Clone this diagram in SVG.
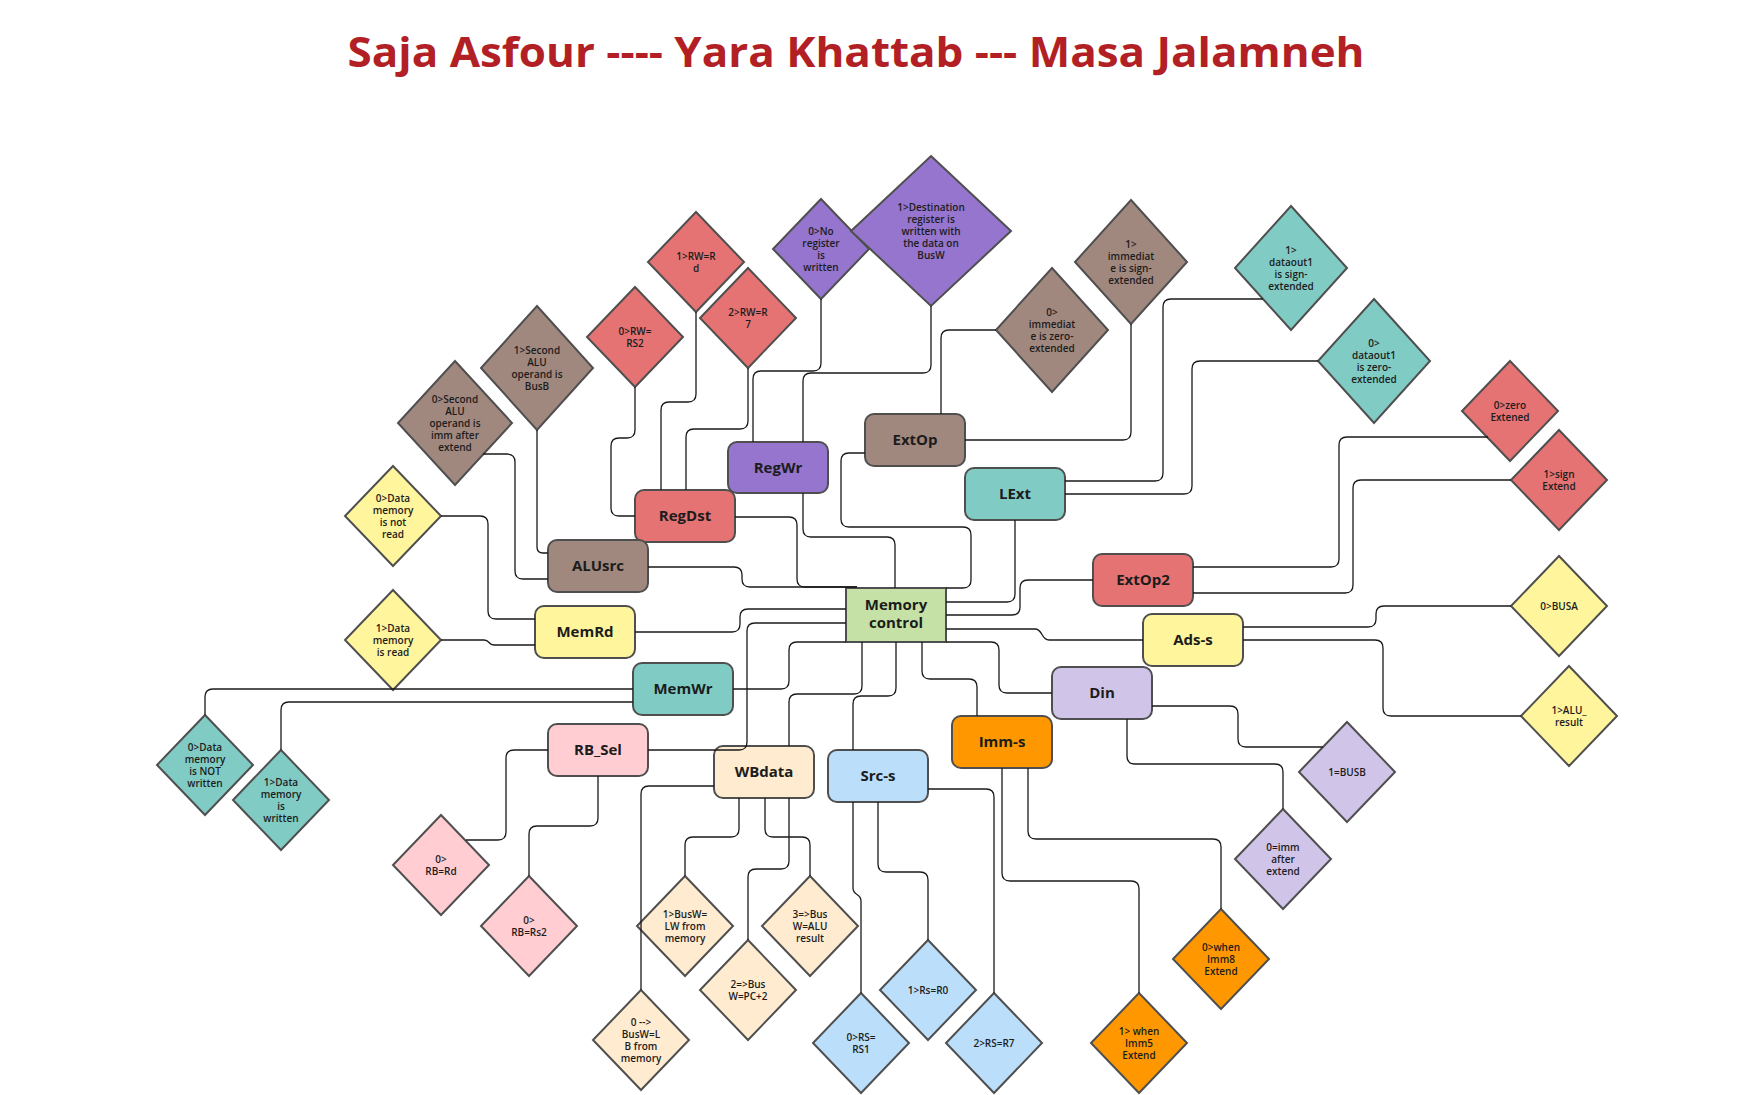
<svg xmlns="http://www.w3.org/2000/svg" width="1761" height="1095" viewBox="0 0 1761 1095">
<style>
.bx{stroke:#4f4f4f;stroke-width:2}
.dm{stroke:#4f4f4f;stroke-width:2}
.bl{font-family:"Open Sans","Liberation Sans",sans-serif;font-weight:700;font-size:15px;fill:#1c1c1c;text-anchor:middle}
.dl{font-family:"Open Sans","Liberation Sans",sans-serif;font-weight:600;font-size:10px;fill:#1c1c1c;text-anchor:middle}
.c{fill:none;stroke:#1a1a1a;stroke-width:1.3}
.red{fill:#E57373}.brn{fill:#A1887F}.pur{fill:#9575CD}.tea{fill:#80CBC4}.yel{fill:#FFF59D}
.lav{fill:#D1C4E9}.ora{fill:#FF9800}.blu{fill:#BBDEFB}.pea{fill:#FFEBD0}.pnk{fill:#FFCDD2}.grn{fill:#C5E1A5}
</style>
<rect width="1761" height="1095" fill="#ffffff"/>
<text x="856" y="67" textLength="1017" lengthAdjust="spacingAndGlyphs" style="font-family:'Open Sans','Liberation Sans',sans-serif;font-weight:700;font-size:42px;fill:#B21F24;text-anchor:middle">Saja Asfour ---- Yara Khattab --- Masa Jalamneh</text>

<g id="nodes">
<g id="RegWr"><rect class="bx pur" x="728" y="442" width="100" height="51" rx="9"/><text class="bl" x="778" y="473">RegWr</text></g>
<g id="ExtOp"><rect class="bx brn" x="865" y="414" width="100" height="52" rx="9"/><text class="bl" x="915" y="445">ExtOp</text></g>
<g id="LExt"><rect class="bx tea" x="965" y="468" width="100" height="52" rx="9"/><text class="bl" x="1015" y="499">LExt</text></g>
<g id="RegDst"><rect class="bx red" x="635" y="490" width="100" height="52" rx="9"/><text class="bl" x="685" y="521">RegDst</text></g>
<g id="ALUsrc"><rect class="bx brn" x="548" y="540" width="100" height="52" rx="9"/><text class="bl" x="598" y="571">ALUsrc</text></g>
<g id="MemoryControl"><rect class="bx grn" x="846" y="588" width="100" height="54"/><text class="bl" x="896" y="610">Memory</text><text class="bl" x="896" y="628">control</text></g>
<g id="ExtOp2"><rect class="bx red" x="1093" y="554" width="100" height="52" rx="9"/><text class="bl" x="1143" y="585">ExtOp2</text></g>
<g id="Ads-s"><rect class="bx yel" x="1143" y="614" width="100" height="52" rx="9"/><text class="bl" x="1193" y="645">Ads-s</text></g>
<g id="Din"><rect class="bx lav" x="1052" y="667" width="100" height="52" rx="9"/><text class="bl" x="1102" y="698">Din</text></g>
<g id="Imm-s"><rect class="bx ora" x="952" y="716" width="100" height="52" rx="9"/><text class="bl" x="1002" y="747">Imm-s</text></g>
<g id="Src-s"><rect class="bx blu" x="828" y="750" width="100" height="52" rx="9"/><text class="bl" x="878" y="781">Src-s</text></g>
<g id="WBdata"><rect class="bx pea" x="714" y="746" width="100" height="52" rx="9"/><text class="bl" x="764" y="777">WBdata</text></g>
<g id="RB_Sel"><rect class="bx pnk" x="548" y="724" width="100" height="52" rx="9"/><text class="bl" x="598" y="755">RB_Sel</text></g>
<g id="MemWr"><rect class="bx tea" x="633" y="663" width="100" height="52" rx="9"/><text class="bl" x="683" y="694">MemWr</text></g>
<g id="MemRd"><rect class="bx yel" x="535" y="606" width="100" height="52" rx="9"/><text class="bl" x="585" y="637">MemRd</text></g>

<g id="d1"><polygon class="dm red" points="696,212 744,262 696,312 648,262"/><text class="dl" x="696" y="259.5">1&gt;RW=R<tspan x="696" dy="12">d</tspan></text></g>
<g id="d2"><polygon class="dm red" points="748,268 796,318 748,368 700,318"/><text class="dl" x="748" y="315.5">2&gt;RW=R<tspan x="748" dy="12">7</tspan></text></g>
<g id="d3"><polygon class="dm red" points="635,287 683,337 635,387 587,337"/><text class="dl" x="635" y="334.5">0&gt;RW=<tspan x="635" dy="12">RS2</tspan></text></g>
<g id="d4"><polygon class="dm brn" points="537,306 593,368 537,430 481,368"/><text class="dl" x="537" y="353.5">1&gt;Second<tspan x="537" dy="12">ALU</tspan><tspan x="537" dy="12">operand is</tspan><tspan x="537" dy="12">BusB</tspan></text></g>
<g id="d5"><polygon class="dm brn" points="455,361 512,423 455,485 398,423"/><text class="dl" x="455" y="402.5">0&gt;Second<tspan x="455" dy="12">ALU</tspan><tspan x="455" dy="12">operand is</tspan><tspan x="455" dy="12">imm after</tspan><tspan x="455" dy="12">extend</tspan></text></g>
<g id="d6"><polygon class="dm yel" points="393,466 441,516 393,566 345,516"/><text class="dl" x="393" y="501.5">0&gt;Data<tspan x="393" dy="12">memory</tspan><tspan x="393" dy="12">is not</tspan><tspan x="393" dy="12">read</tspan></text></g>
<g id="d7"><polygon class="dm pur" points="821,199 869,249 821,299 773,249"/><text class="dl" x="821" y="234.5">0&gt;No<tspan x="821" dy="12">register</tspan><tspan x="821" dy="12">is</tspan><tspan x="821" dy="12">written</tspan></text></g>
<g id="d8"><polygon class="dm pur" points="931,156 1011,231 931,306 851,231"/><text class="dl" x="931" y="210.5">1&gt;Destination<tspan x="931" dy="12">register  is</tspan><tspan x="931" dy="12">written with</tspan><tspan x="931" dy="12">the data on</tspan><tspan x="931" dy="12">BusW</tspan></text></g>
<g id="d9"><polygon class="dm brn" points="1052,268 1108,330 1052,392 996,330"/><text class="dl" x="1052" y="315.5">0&gt;<tspan x="1052" dy="12">immediat</tspan><tspan x="1052" dy="12">e is zero-</tspan><tspan x="1052" dy="12">extended</tspan></text></g>
<g id="d10"><polygon class="dm brn" points="1131,200 1187,262 1131,324 1075,262"/><text class="dl" x="1131" y="247.5">1&gt;<tspan x="1131" dy="12">immediat</tspan><tspan x="1131" dy="12">e is sign-</tspan><tspan x="1131" dy="12">extended</tspan></text></g>
<g id="d11"><polygon class="dm tea" points="1291,206 1347,268 1291,330 1235,268"/><text class="dl" x="1291" y="253.5">1&gt;<tspan x="1291" dy="12">dataout1</tspan><tspan x="1291" dy="12">is sign-</tspan><tspan x="1291" dy="12">extended</tspan></text></g>
<g id="d12"><polygon class="dm tea" points="1374,299 1430,361 1374,423 1318,361"/><text class="dl" x="1374" y="346.5">0&gt;<tspan x="1374" dy="12">dataout1</tspan><tspan x="1374" dy="12">is zero-</tspan><tspan x="1374" dy="12">extended</tspan></text></g>
<g id="d13"><polygon class="dm red" points="1510,361 1558,411 1510,461 1462,411"/><text class="dl" x="1510" y="408.5">0&gt;zero<tspan x="1510" dy="12">Extened</tspan></text></g>
<g id="d14"><polygon class="dm red" points="1559,430 1607,480 1559,530 1511,480"/><text class="dl" x="1559" y="477.5">1&gt;sign<tspan x="1559" dy="12">Extend</tspan></text></g>
<g id="d15"><polygon class="dm yel" points="1559,556 1607,606 1559,656 1511,606"/><text class="dl" x="1559" y="609.5">0&gt;BUSA</text></g>
<g id="d16"><polygon class="dm yel" points="1569,666 1617,716 1569,766 1521,716"/><text class="dl" x="1569" y="713.5">1&gt;ALU_<tspan x="1569" dy="12">result</tspan></text></g>
<g id="d17"><polygon class="dm lav" points="1347,722 1395,772 1347,822 1299,772"/><text class="dl" x="1347" y="775.5">1=BUSB</text></g>
<g id="d18"><polygon class="dm lav" points="1283,809 1331,859 1283,909 1235,859"/><text class="dl" x="1283" y="850.5">0=imm<tspan x="1283" dy="12">after</tspan><tspan x="1283" dy="12">extend</tspan></text></g>
<g id="d19"><polygon class="dm yel" points="393,590 441,640 393,690 345,640"/><text class="dl" x="393" y="631.5">1&gt;Data<tspan x="393" dy="12">memory</tspan><tspan x="393" dy="12">is read</tspan></text></g>
<g id="d20"><polygon class="dm tea" points="205,715 253,765 205,815 157,765"/><text class="dl" x="205" y="750.5">0&gt;Data<tspan x="205" dy="12">memory</tspan><tspan x="205" dy="12">is NOT</tspan><tspan x="205" dy="12">written</tspan></text></g>
<g id="d21"><polygon class="dm tea" points="281,750 329,800 281,850 233,800"/><text class="dl" x="281" y="785.5">1&gt;Data<tspan x="281" dy="12">memory</tspan><tspan x="281" dy="12">is</tspan><tspan x="281" dy="12">written</tspan></text></g>
<g id="d22"><polygon class="dm pnk" points="441,815 489,865 441,915 393,865"/><text class="dl" x="441" y="862.5">0&gt;<tspan x="441" dy="12">RB=Rd</tspan></text></g>
<g id="d23"><polygon class="dm pnk" points="529,876 577,926 529,976 481,926"/><text class="dl" x="529" y="923.5">0&gt;<tspan x="529" dy="12">RB=Rs2</tspan></text></g>
<g id="d24"><polygon class="dm pea" points="685,876 733,926 685,976 637,926"/><text class="dl" x="685" y="917.5">1&gt;BusW=<tspan x="685" dy="12">LW from</tspan><tspan x="685" dy="12">memory</tspan></text></g>
<g id="d25"><polygon class="dm pea" points="810,876 858,926 810,976 762,926"/><text class="dl" x="810" y="917.5">3=&gt;Bus<tspan x="810" dy="12">W=ALU</tspan><tspan x="810" dy="12">result</tspan></text></g>
<g id="d26"><polygon class="dm pea" points="748,940 796,990 748,1040 700,990"/><text class="dl" x="748" y="987.5">2=&gt;Bus<tspan x="748" dy="12">W=PC+2</tspan></text></g>
<g id="d27"><polygon class="dm pea" points="641,990 689,1040 641,1090 593,1040"/><text class="dl" x="641" y="1025.5">0 --&gt;<tspan x="641" dy="12">BusW=L</tspan><tspan x="641" dy="12">B from</tspan><tspan x="641" dy="12">memory</tspan></text></g>
<g id="d28"><polygon class="dm blu" points="861,993 909,1043 861,1093 813,1043"/><text class="dl" x="861" y="1040.5">0&gt;RS=<tspan x="861" dy="12">RS1</tspan></text></g>
<g id="d29"><polygon class="dm blu" points="928,940 976,990 928,1040 880,990"/><text class="dl" x="928" y="993.5">1&gt;Rs=R0</text></g>
<g id="d30"><polygon class="dm blu" points="994,993 1042,1043 994,1093 946,1043"/><text class="dl" x="994" y="1046.5">2&gt;RS=R7</text></g>
<g id="d31"><polygon class="dm ora" points="1139,993 1187,1043 1139,1093 1091,1043"/><text class="dl" x="1139" y="1034.5">1&gt; when<tspan x="1139" dy="12">Imm5</tspan><tspan x="1139" dy="12">Extend</tspan></text></g>
<g id="d32"><polygon class="dm ora" points="1221,909 1269,959 1221,1009 1173,959"/><text class="dl" x="1221" y="950.5">0&gt;when<tspan x="1221" dy="12">Imm8</tspan><tspan x="1221" dy="12">Extend</tspan></text></g>
</g>

<g id="connectors">
<path class="c" d="M696 312 V394 Q696 402 688 402 H669 Q661 402 661 410 V490"/>
<path class="c" d="M748 368 V421 Q748 429 740 429 H694 Q686 429 686 437 V490"/>
<path class="c" d="M635 387 V430 Q635 438 627 438 H619 Q611 438 611 446 V508 Q611 516 619 516 H635"/>
<path class="c" d="M537 430 V547 Q537 553 543 553 H548"/>
<path class="c" d="M483 454 H507 Q515 454 515 462 V571 Q515 579 523 579 H548"/>
<path class="c" d="M441 516 H480 Q488 516 488 524 V611 Q488 619 496 619 H535"/>
<path class="c" d="M441 640 H484 C490 640 488 645 494 645 H535"/>
<path class="c" d="M633 689 H213 Q205 689 205 697 V715"/>
<path class="c" d="M633 702 H289 Q281 702 281 710 V750"/>
<path class="c" d="M548 750 H514 Q506 750 506 758 V832 Q506 840 498 840 H466"/>
<path class="c" d="M598 776 V818 Q598 826 590 826 H537 Q529 826 529 834 V876"/>
<path class="c" d="M821 299 V363 Q821 371 813 371 H761 Q753 371 753 379 V442"/>
<path class="c" d="M931 306 V365 Q931 373 923 373 H811 Q803 373 803 381 V442"/>
<path class="c" d="M803 493 V529 Q803 537 811 537 H887 Q895 537 895 545 V588"/>
<path class="c" d="M996 330 H949 Q941 330 941 338 V414"/>
<path class="c" d="M1131 324 V432 Q1131 440 1123 440 H965"/>
<path class="c" d="M865 453 H849 Q841 453 841 461 V519 Q841 527 849 527 H963 Q971 527 971 535 V580 Q971 588 963 588 H946"/>
<path class="c" d="M1065 481 H1155 Q1163 481 1163 473 V307 Q1163 299 1171 299 H1263"/>
<path class="c" d="M1065 494 H1184 Q1192 494 1192 486 V369 Q1192 361 1200 361 H1318"/>
<path class="c" d="M1015 520 V594 Q1015 602 1007 602 H946"/>
<path class="c" d="M1093 580 H1028 Q1020 580 1020 588 V607 Q1020 615 1012 615 H946"/>
<path class="c" d="M1193 567 H1331 Q1339 567 1339 559 V445 Q1339 437 1347 437 H1488"/>
<path class="c" d="M1193 593 H1345 Q1353 593 1353 585 V488 Q1353 480 1361 480 H1511"/>
<path class="c" d="M946 629 H1035 C1043 629 1041 640 1049 640 H1143"/>
<path class="c" d="M1243 627 H1368 Q1376 627 1376 619 V614 Q1376 606 1384 606 H1511"/>
<path class="c" d="M1243 640 H1375 Q1383 640 1383 648 V708 Q1383 716 1391 716 H1521"/>
<path class="c" d="M946 642 H991 Q999 642 999 650 V685 Q999 693 1007 693 H1052"/>
<path class="c" d="M922 642 V671 Q922 679 930 679 H969 Q977 679 977 687 V716"/>
<path class="c" d="M896 642 V688 Q896 696 888 696 H861 Q853 696 853 704 V750"/>
<path class="c" d="M862 642 V686 Q862 694 854 694 H797 Q789 694 789 702 V746"/>
<path class="c" d="M846 642 H797 Q789 642 789 650 V681 Q789 689 781 689 H733"/>
<path class="c" d="M846 609 H748 Q740 609 740 617 V624 Q740 632 732 632 H635"/>
<path class="c" d="M846 623 H755 Q747 623 747 631 V742 Q747 750 739 750 H648"/>
<path class="c" d="M735 517 H789 Q797 517 797 525 V579 Q797 587 805 587 H857"/>
<path class="c" d="M648 567 H734 Q742 567 742 575 V579 Q742 587 750 587 H857"/>
<path class="c" d="M714 786 H649 Q641 786 641 794 V990"/>
<path class="c" d="M739 798 V829 Q739 837 731 837 H693 Q685 837 685 845 V876"/>
<path class="c" d="M765 798 V829 Q765 837 773 837 H802 Q810 837 810 845 V876"/>
<path class="c" d="M789 798 V861 Q789 869 781 869 H756 Q748 869 748 877 V940"/>
<path class="c" d="M853 802 V888 C853 896 861 893 861 901 V993"/>
<path class="c" d="M878 802 V864 Q878 872 886 872 H920 Q928 872 928 880 V940"/>
<path class="c" d="M928 789 H986 Q994 789 994 797 V993"/>
<path class="c" d="M1002 768 V873 Q1002 881 1010 881 H1131 Q1139 881 1139 889 V993"/>
<path class="c" d="M1028 768 V831 Q1028 839 1036 839 H1213 Q1221 839 1221 847 V909"/>
<path class="c" d="M1127 719 V756 Q1127 764 1135 764 H1275 Q1283 764 1283 772 V809"/>
<path class="c" d="M1152 706 H1230 Q1238 706 1238 714 V739 Q1238 747 1246 747 H1323"/>
</g>
</svg>
